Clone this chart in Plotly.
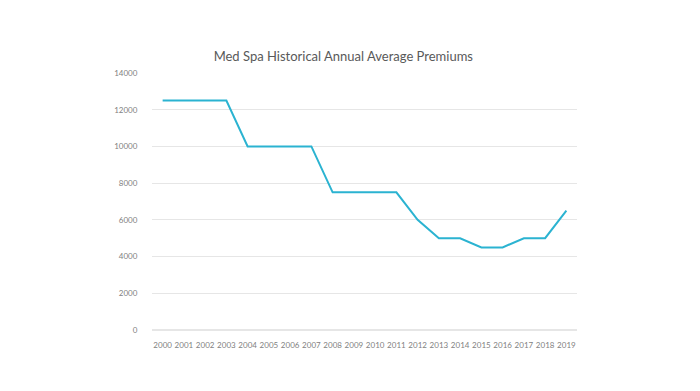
import plotly.graph_objects as go

years = [str(y) for y in range(2000, 2020)]
premiums = [12500, 12500, 12500, 12500, 10000, 10000, 10000, 10000,
            7500, 7500, 7500, 7500, 6000, 5000, 5000, 4500, 4500, 5000, 5000, 6500]
y_ticks = [0, 2000, 4000, 6000, 8000, 10000, 12000, 14000]
y_tick_labels = ["0", "2000", "4000", "6000", "8000", "10000", "12000", "14000"]

fig = go.Figure()
fig.add_trace(go.Scatter(x=years, y=premiums, mode="lines",
                         line=dict(color="#2BB3D1", width=2), hoverinfo="x+y"))

fig.update_layout(
    width=700, height=391,
    paper_bgcolor="white", plot_bgcolor="white",
    margin=dict(l=144, r=131, t=65, b=69),
    title=dict(text="Med Spa Historical Annual Average Premiums",
               x=0.479, xanchor="center", y=0.875, yanchor="middle",
               font=dict(family="Lato", size=13, color="#595959")),
    showlegend=False,
    font=dict(family="Lato", color="#7F7F7F", size=8),
)
fig.update_xaxes(type="category", range=[-0.5, 19.5], showgrid=False,
                 showline=False, ticks="outside", ticklen=7, tickcolor="white",
                 tickfont=dict(size=8, color="#7F7F7F"), tickangle=0)
fig.update_yaxes(range=[0, 14000], tickvals=y_ticks, ticktext=y_tick_labels,
                 showgrid=True,
                 gridcolor="#E6E6E6", gridwidth=1, zeroline=True,
                 zerolinecolor="#E6E6E6", showline=False, ticks="outside",
                 ticklen=12, tickcolor="white",
                 tickfont=dict(size=8, color="#7F7F7F"))

fig.write_html("out.html")
